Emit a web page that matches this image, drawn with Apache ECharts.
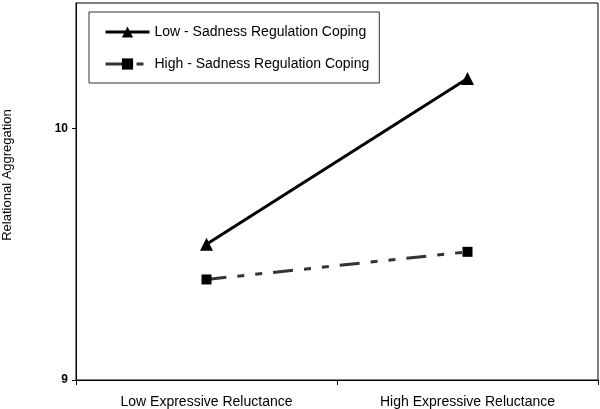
<!DOCTYPE html>
<html><head><meta charset="utf-8">
<script src="https://cdn.jsdelivr.net/npm/echarts@6/dist/echarts.min.js"></script>
<style>html,body{margin:0;padding:0;background:#fff}#c{width:600px;height:409px}</style>
</head><body><div id="c"></div>
<script>
const categories = ['Low Expressive Reluctance', 'High Expressive Reluctance'];
const lowSadness = [9.54, 10.20];
const highSadness = [9.40, 9.51];
const seriesNames = ['Low - Sadness Regulation Coping', 'High - Sadness Regulation Coping'];
const yTicks = [9, 10];
const yName = 'Relational Aggregation';

const FONT = 'Liberation Sans, Arial, sans-serif';
const chart = echarts.init(document.getElementById('c'), null, {renderer: 'canvas'});
chart.setOption({
  animation: false,
  backgroundColor: '#fff',
  grid: {left: 76, right: 2, top: 3, bottom: 29, show: true, borderColor: '#000', borderWidth: 1},
  legend: {
    orient: 'vertical', left: 89, top: 12,
    padding: [13, 10, 12, 15],
    borderColor: '#333', borderWidth: 1,
    itemWidth: 44, itemHeight: 14, itemGap: 18,
    lineStyle: {width: 3},
    textStyle: {fontFamily: FONT, fontSize: 14, color: '#000'},
    data: seriesNames
  },
  xAxis: {
    type: 'category', data: categories, boundaryGap: true,
    axisLine: {lineStyle: {color: '#000', width: 1}},
    axisTick: {show: true, length: 5, lineStyle: {color: '#000'}},
    axisLabel: {fontFamily: FONT, fontSize: 14, color: '#000', margin: 15}
  },
  yAxis: {
    type: 'value', min: 9, max: 10.5, interval: 1,
    splitLine: {show: false},
    axisLine: {show: true, lineStyle: {color: '#000', width: 1}},
    axisTick: {show: true, length: 4, customValues: yTicks, lineStyle: {color: '#000'}},
    axisLabel: {fontFamily: FONT, fontSize: 12, fontWeight: 'bold', color: '#000', margin: 8, customValues: yTicks}
  },
  graphic: [{
    type: 'text', x: 7, y: 175, rotation: Math.PI / 2,
    style: {text: yName, font: '13px ' + FONT, fill: '#000', align: 'center', verticalAlign: 'middle'}
  }],
  series: [
    {
      name: seriesNames[0], type: 'line', data: lowSadness,
      symbol: 'triangle', symbolSize: 13,
      itemStyle: {color: '#000'},
      lineStyle: {color: '#000', width: 3, type: 'solid'}
    },
    {
      name: seriesNames[1], type: 'line', data: highSadness,
      symbol: 'rect', symbolSize: 10,
      itemStyle: {color: '#000'},
      lineStyle: {color: '#333', width: 3, type: [20, 11, 7, 11, 7, 11]}
    }
  ]
});
</script></body></html>
